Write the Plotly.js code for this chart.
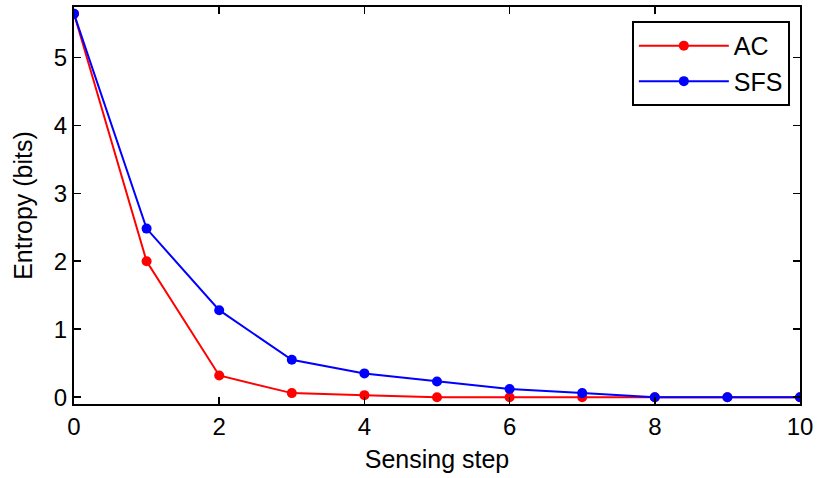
<!DOCTYPE html>
<html>
<head>
<meta charset="utf-8">
<script src="https://cdn.plot.ly/plotly-3.0.1.min.js"></script>
<style>
  html, body { margin: 0; padding: 0; background: #fff; }
  #chart { width: 817px; height: 478px; }
</style>
</head>
<body>
<div id="chart"></div>
<script>
// Entropy of the belief after each sensing step
const steps = [0, 1, 2, 3, 4, 5, 6, 7, 8, 9, 10];
const entropyAC  = [5.64, 2.0, 0.32, 0.06, 0.03, 0.0, 0.0, 0.0, 0.0, 0.0, 0.0];
const entropySFS = [5.64, 2.48, 1.28, 0.55, 0.35, 0.23, 0.12, 0.06, 0.0, 0.0, 0.0];
const xTicks = [0, 2, 4, 6, 8, 10];
const yTicks = [0, 1, 2, 3, 4, 5];

const family = 'Liberation Sans, Arial, sans-serif';
const tickFont = { family: family, size: 24, color: '#000' };
const labelFont = { family: family, size: 25, color: '#000' };

const traces = [
  {
    x: steps, y: entropyAC, name: 'AC', mode: 'lines+markers',
    line: { color: '#ff0000', width: 2 },
    marker: { color: '#ff0000', size: 10 }
  },
  {
    x: steps, y: entropySFS, name: 'SFS', mode: 'lines+markers',
    line: { color: '#0000ff', width: 2 },
    marker: { color: '#0000ff', size: 10 }
  }
];

const axisCommon = {
  showgrid: false, zeroline: false, showline: true, mirror: 'ticks',
  linecolor: '#000', linewidth: 2, ticks: 'inside', ticklen: 7,
  tickwidth: 1.5, tickcolor: '#000', tickfont: tickFont
};

const layout = {
  width: 817, height: 478,
  margin: { l: 74, r: 17, t: 7, b: 74 },
  paper_bgcolor: '#fff', plot_bgcolor: '#fff',
  font: tickFont,
  showlegend: true,
  legend: {
    x: 0.986, y: 0.965, xanchor: 'right', yanchor: 'top',
    bordercolor: '#000', borderwidth: 2, bgcolor: '#fff',
    font: { family: family, size: 25, color: '#000' },
    itemwidth: 90, tracegroupgap: 0
  },
  xaxis: Object.assign({}, axisCommon, {
    range: [0, 10], tickvals: xTicks, ticktext: xTicks.map(String),
    title: { text: 'Sensing step', font: labelFont, standoff: 12 }
  }),
  yaxis: Object.assign({}, axisCommon, {
    range: [-0.1, 5.74], tickvals: yTicks, ticktext: yTicks.map(String),
    title: { text: 'Entropy (bits)', font: labelFont, standoff: 14 }
  })
};

Plotly.newPlot('chart', traces, layout, { displayModeBar: false, staticPlot: true });
</script>
</body>
</html>
